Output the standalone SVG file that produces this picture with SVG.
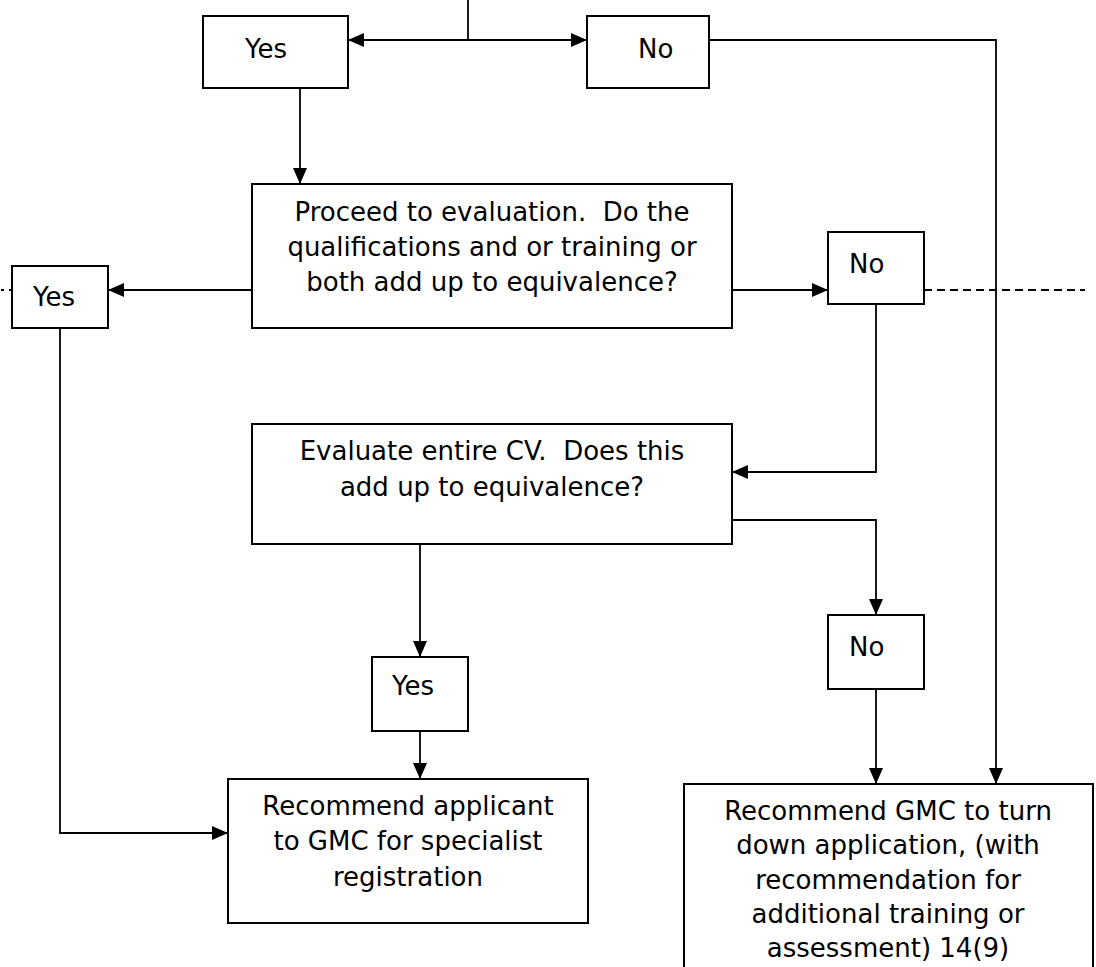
<svg xmlns="http://www.w3.org/2000/svg" width="1096" height="967" viewBox="0 0 1096 967">
<style>
.box{fill:#fff;stroke:#000;stroke-width:2}
.ln{fill:none;stroke:#000;stroke-width:1.8}
.arr{marker-end:url(#ah)}
.dash{fill:none;stroke:#000;stroke-width:1.8;stroke-dasharray:8 5}
text{font-family:"DejaVu Sans","Liberation Sans",sans-serif;font-size:26px;fill:#000}
.c{text-anchor:middle}
</style>
<defs>
<marker id="ah" markerUnits="userSpaceOnUse" markerWidth="16" markerHeight="14" refX="16" refY="7" orient="auto">
<path d="M0,0 L16,7 L0,14 Z" fill="#000"/>
</marker>
</defs>
<rect width="1096" height="967" fill="#fff"/>
<g id="connectors">
<path class="ln" d="M468,0 V40"/>
<path class="ln arr" d="M468,40 H348"/>
<path class="ln arr" d="M468,40 H587"/>
<path class="ln arr" d="M709,40 H996 V784"/>
<path class="ln arr" d="M300,88 V184"/>
<path class="ln arr" d="M252,290 H108"/>
<path class="ln arr" d="M732,290 H828"/>
<path class="dash" d="M924,290 H1085"/>
<path class="dash" d="M12,290 H0" style="stroke-dasharray:3 5"/>
<path class="ln arr" d="M876,304 V472 H732"/>
<path class="ln arr" d="M60,328 V833 H228"/>
<path class="ln arr" d="M420,544 V657"/>
<path class="ln arr" d="M420,731 V779"/>
<path class="ln arr" d="M732,520 H876 V615"/>
<path class="ln arr" d="M876,689 V784"/>
</g>
<g id="yes-top">
<rect class="box" x="203" y="16" width="145" height="72"/>
<text x="245" y="58">Yes</text>
</g>
<g id="no-top">
<rect class="box" x="587" y="16" width="122" height="72"/>
<text x="638" y="58">No</text>
</g>
<g id="proceed">
<rect class="box" x="252" y="184" width="480" height="144"/>
<text class="c" x="492" y="221" xml:space="preserve">Proceed to evaluation.  Do the</text>
<text class="c" x="492" y="256">qualifications and or training or</text>
<text class="c" x="492" y="291">both add up to equivalence?</text>
</g>
<g id="yes-left">
<rect class="box" x="12" y="266" width="96" height="62"/>
<text x="33" y="306">Yes</text>
</g>
<g id="no-mid">
<rect class="box" x="828" y="232" width="96" height="72"/>
<text x="849" y="273">No</text>
</g>
<g id="evaluate">
<rect class="box" x="252" y="424" width="480" height="120"/>
<text class="c" x="492" y="460" xml:space="preserve">Evaluate entire CV.  Does this</text>
<text class="c" x="492" y="496">add up to equivalence?</text>
</g>
<g id="yes-mid">
<rect class="box" x="372" y="657" width="96" height="74"/>
<text x="392" y="695">Yes</text>
</g>
<g id="no-low">
<rect class="box" x="828" y="615" width="96" height="74"/>
<text x="849" y="656">No</text>
</g>
<g id="recommend-applicant">
<rect class="box" x="228" y="779" width="360" height="144"/>
<text class="c" x="408" y="815">Recommend applicant</text>
<text class="c" x="408" y="850">to GMC for specialist</text>
<text class="c" x="408" y="886">registration</text>
</g>
<g id="recommend-turn-down">
<rect class="box" x="684" y="784" width="409" height="200"/>
<text class="c" x="888" y="820">Recommend GMC to turn</text>
<text class="c" x="888" y="854">down application, (with</text>
<text class="c" x="888" y="889">recommendation for</text>
<text class="c" x="888" y="923">additional training or</text>
<text class="c" x="888" y="957">assessment) 14(9)</text>
</g>
</svg>
